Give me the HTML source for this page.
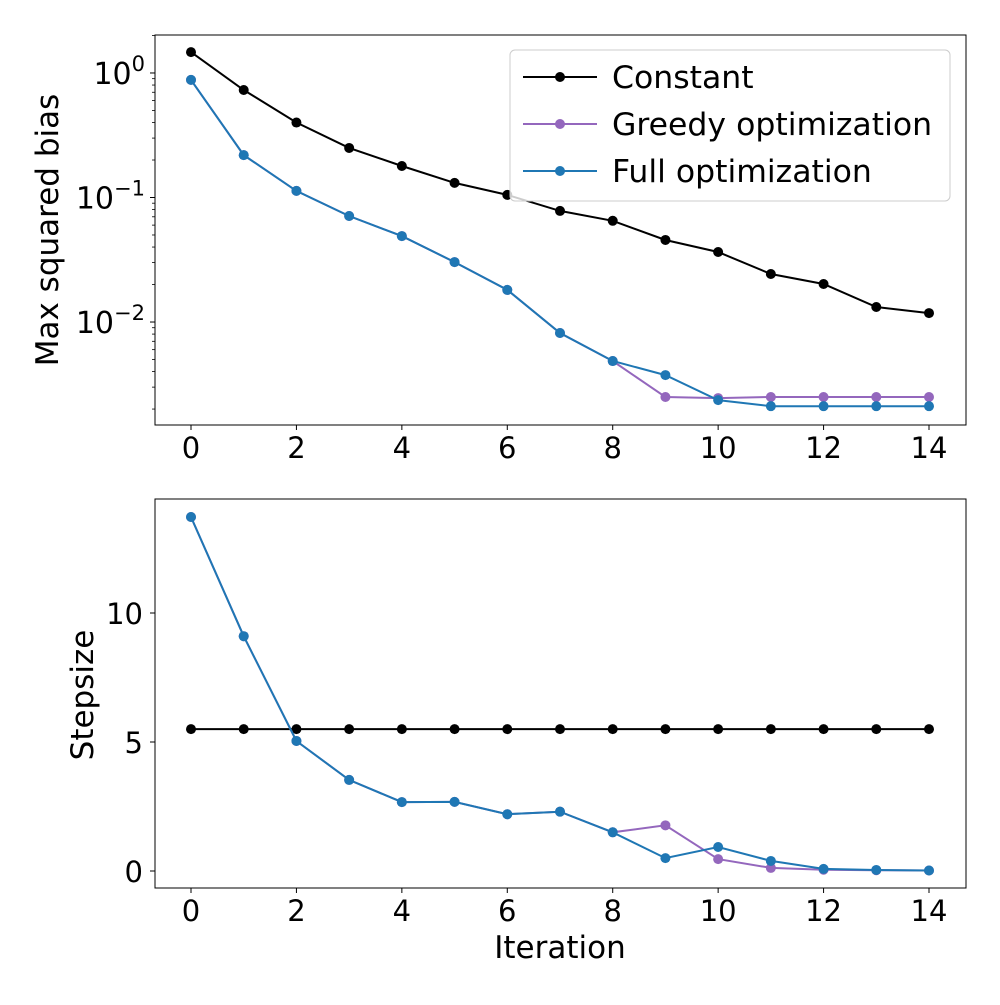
<!DOCTYPE html>
<html><head><meta charset="utf-8"><style>
body{margin:0;background:#fff;}
svg text{font-family:"DejaVu Sans","Liberation Sans",sans-serif;fill:#000;}
</style></head><body>
<svg id="fig" width="1000" height="1000" viewBox="0 0 1000 1000"></svg>
<script>
const iterations=[0,1,2,3,4,5,6,7,8,9,10,11,12,13,14];
const biasConstant=[1.47,0.73,0.40,0.25,0.179,0.131,0.105,0.078,0.065,0.0456,0.0365,0.0243,0.0202,0.0132,0.0118];
const biasGreedy=[0.88,0.219,0.113,0.071,0.049,0.0303,0.0181,0.00816,0.00486,0.0025,0.00245,0.0025,0.0025,0.0025,0.0025];
const biasFull=[0.88,0.219,0.113,0.071,0.049,0.0303,0.0181,0.00816,0.00486,0.00375,0.00236,0.00211,0.00211,0.00211,0.00211];
const stepConstant=[5.5,5.5,5.5,5.5,5.5,5.5,5.5,5.5,5.5,5.5,5.5,5.5,5.5,5.5,5.5];
const stepGreedy=[13.72,9.1,5.04,3.53,2.67,2.68,2.2,2.3,1.5,1.77,0.46,0.12,0.05,0.03,0.02];
const stepFull=[13.72,9.1,5.04,3.53,2.67,2.68,2.2,2.3,1.5,0.5,0.93,0.39,0.08,0.04,0.02];
const xTicks=[0,2,4,6,8,10,12,14];
const logTicks=[0,-1,-2];
const stepTicks=[0,5,10];
const legendLabels=["Constant","Greedy optimization","Full optimization"];

const NS="http://www.w3.org/2000/svg";
const svg=document.getElementById('fig');
function mk(t,a,p){const e=document.createElementNS(NS,t);for(const k in a)e.setAttribute(k,a[k]);(p||svg).appendChild(e);return e;}
const L=155,R=966;
const xs=v=>191+(v-0)*(929-191)/14;
const T1=35,B1=425,yLogTop=0.305,yLogBot=-2.827;
const ys1=v=>T1+(yLogTop-Math.log10(v))/(yLogTop-yLogBot)*(B1-T1);
const T2=499,B2=888,ys2=v=>871-v*25.8;
const colors=["#000000","#9467bd","#1f77b4"];

function series(g,xa,ya,ys,col,name){
  const grp=mk('g',{},g);
  
  
  const pts=xa.map((x,i)=>xs(x).toFixed(1)+','+ys(ya[i]).toFixed(1)).join(' ');
  mk('polyline',{points:pts,fill:'none',stroke:col,'stroke-width':2},grp);
  xa.forEach((x,i)=>{const c=mk('circle',{cx:xs(x),cy:ys(ya[i]),r:5,fill:col},grp);
    
    });
}
function xAxis(g,B){
  xTicks.forEach(t=>{mk('line',{x1:xs(t),x2:xs(t),y1:B,y2:B+5,stroke:'#000','stroke-width':1},g);
    const tx=mk('text',{x:xs(t),y:B+33,'font-size':29,'text-anchor':'middle'},g);tx.textContent=t;});
}
const g1=mk('g',{});


for(let d=-3;d<=0;d++){for(let m=2;m<=9;m++){const v=m*Math.pow(10,d);const y=ys1(v);if(y>T1&&y<B1)mk('line',{x1:L-3,x2:L,y1:y,y2:y,stroke:'#000','stroke-width':0.8},g1);}}
logTicks.forEach(t=>{const y=ys1(Math.pow(10,t));mk('line',{x1:L-5,x2:L,y1:y,y2:y,stroke:'#000'},g1);
  const tx=mk('text',{x:L-10,y:y+11,'font-size':30,'text-anchor':'end'},g1);
  tx.innerHTML='10<tspan dy="-13" font-size="21">'+(t===0?'0':'−'+(-t))+'</tspan>';});
xAxis(g1,B1);
series(g1,iterations,biasConstant,ys1,colors[0],'bias-constant-line');
series(g1,iterations,biasGreedy,ys1,colors[1],'bias-greedy-line');
series(g1,iterations,biasFull,ys1,colors[2],'bias-full-line');
mk('rect',{x:L,y:T1,width:R-L,height:B1-T1,fill:'none',stroke:'#000','stroke-width':1},g1);
const yl1=mk('text',{x:58,y:230,'font-size':31,'text-anchor':'middle',transform:'rotate(-90 58 230)'},g1);yl1.textContent='Max squared bias';

const lg=mk('g',{});


mk('rect',{x:510,y:50,width:440,height:151,rx:5,fill:'#fff','fill-opacity':0.8,stroke:'#ccc'},lg);
legendLabels.forEach((lab,i)=>{const y=77+i*47;
  const e=mk('g',{},lg);
  
  
  mk('line',{x1:523,x2:597,y1:y,y2:y,stroke:colors[i],'stroke-width':2},e);
  mk('circle',{cx:560,cy:y,r:5,fill:colors[i]},e);
  const t=mk('text',{x:612,y:y+11,'font-size':31.5},e);t.textContent=lab;});
const g2=mk('g',{});


stepTicks.forEach(t=>{const y=ys2(t);mk('line',{x1:L-5,x2:L,y1:y,y2:y,stroke:'#000'},g2);
  const tx=mk('text',{x:L-12,y:y+11,'font-size':29,'text-anchor':'end'},g2);tx.textContent=t;});
xAxis(g2,B2);
series(g2,iterations,stepConstant,ys2,colors[0],'step-constant-line');
series(g2,iterations,stepGreedy,ys2,colors[1],'step-greedy-line');
series(g2,iterations,stepFull,ys2,colors[2],'step-full-line');
mk('rect',{x:L,y:T2,width:R-L,height:B2-T2,fill:'none',stroke:'#000','stroke-width':1},g2);
const yl2=mk('text',{x:93,y:695,'font-size':31,'text-anchor':'middle',transform:'rotate(-90 93 695)'},g2);yl2.textContent='Stepsize';

const xl=mk('text',{x:560,y:958,'font-size':31,'text-anchor':'middle'},g2);xl.textContent='Iteration';

</script>
</body></html>
